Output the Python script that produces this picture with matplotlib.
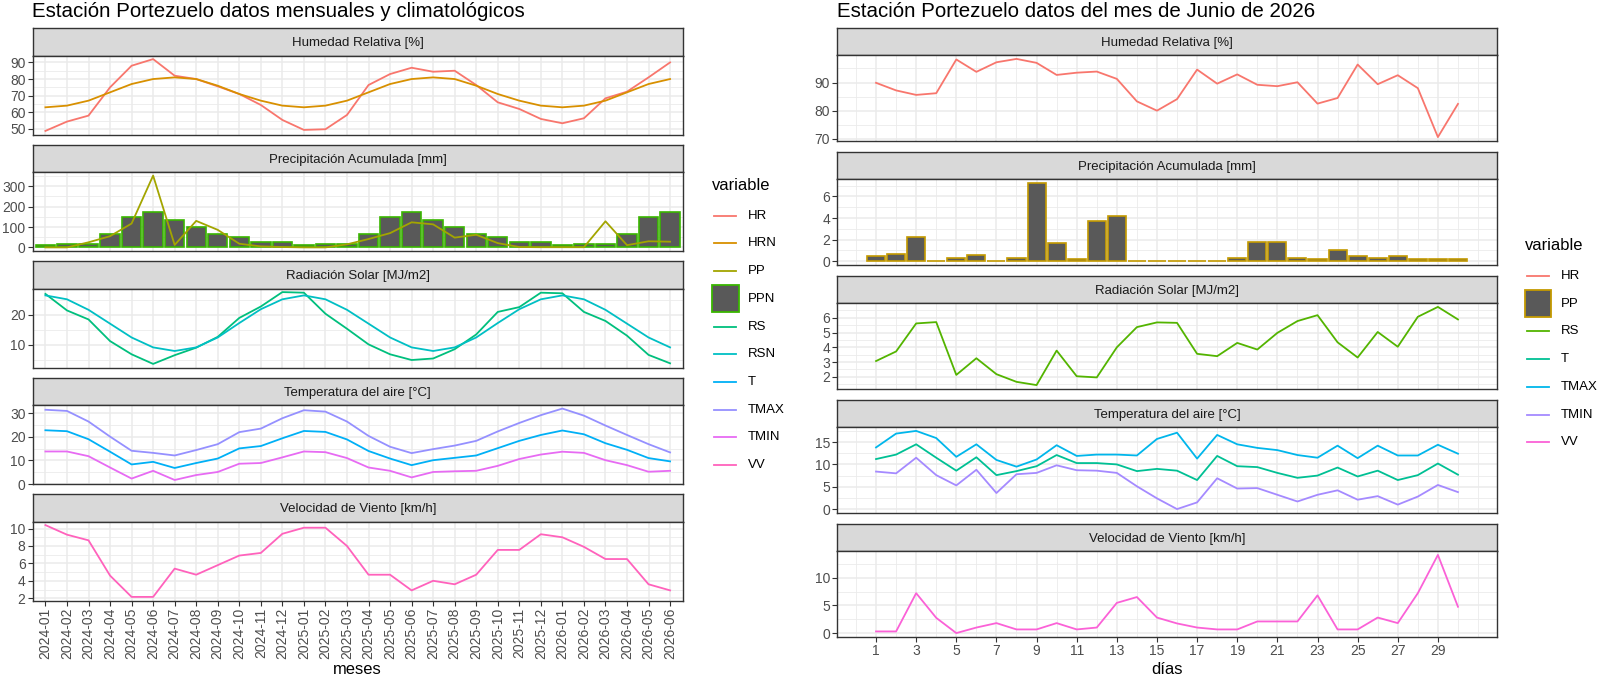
import numpy as np
import matplotlib.pyplot as plt

plt.rcParams['font.family'] = ['Liberation Sans', 'DejaVu Sans']

W, H = 1600, 676

# ---------------- monthly data (2024-01 .. 2026-06) ----------------
meses = ['2024-01', '2024-02', '2024-03', '2024-04', '2024-05', '2024-06',
         '2024-07', '2024-08', '2024-09', '2024-10', '2024-11', '2024-12',
         '2025-01', '2025-02', '2025-03', '2025-04', '2025-05', '2025-06',
         '2025-07', '2025-08', '2025-09', '2025-10', '2025-11', '2025-12',
         '2026-01', '2026-02', '2026-03', '2026-04', '2026-05', '2026-06']

hr_m = [48.8, 54.4, 58, 75, 88, 92, 82, 80, 75.6, 71, 64.4, 55.4,
        49.4, 49.8, 58.4, 76.4, 83, 86.8, 84.4, 85, 76.4, 66, 62, 56,
        53.4, 56.4, 68.4, 72.4, 81, 90]
hrn_m = [63, 64, 67, 72, 77, 80, 81, 80, 76, 71, 67, 64,
         63, 64, 67, 72, 77, 80, 81, 80, 76, 71, 67, 64,
         63, 64, 67, 72, 77, 80]
pp_m = [0, 0, 25, 55, 117, 352, 12, 130, 86, 18, 5, 2,
        0, 0, 15, 41, 70, 123, 113, 48, 62, 21, 2, 1,
        1, 1, 128, 11, 30, 28]
ppn_m = [10, 18, 18, 67, 148, 172, 133, 99, 67, 51, 26, 26,
         10, 18, 18, 67, 148, 172, 133, 99, 67, 51, 26, 26,
         10, 18, 18, 67, 148, 172]
rs_m = [26.9, 21.4, 18.4, 11.2, 6.8, 3.6, 6.5, 9.0, 12.6, 18.9, 22.7, 27.5,
        27.3, 20.3, 15.3, 10.1, 6.8, 4.9, 5.4, 8.5, 13.4, 20.9, 22.5, 27.3,
        27.1, 20.9, 17.9, 13.0, 6.6, 3.8]
rsn_m = [26.4, 25.1, 21.6, 17.0, 12.4, 9.1, 7.9, 9.1, 12.4, 17.2, 21.8, 25.1,
         26.4, 25.1, 21.6, 17.0, 12.4, 9.1, 7.9, 9.1, 12.4, 17.2, 21.8, 25.1,
         26.4, 25.1, 21.6, 17.0, 12.4, 9.1]
tmax_m = [31.5, 31, 26.5, 20.1, 14.1, 13.2, 12.1, 14.4, 16.9, 22, 23.5, 27.9,
          31.3, 30.7, 26.5, 20.4, 15.8, 13.1, 14.8, 16.3, 18.3, 22.3, 25.9, 29.2,
          32, 29, 24.8, 20.8, 16.9, 13.4]
t_m = [22.8, 22.4, 19, 13.7, 8.3, 9.4, 6.8, 8.9, 10.8, 15.1, 16.1, 19.4,
       22.5, 22.1, 18.9, 14, 10.8, 8, 10.1, 11.1, 12.1, 15.2, 18.3, 20.8,
       22.7, 21.1, 17.3, 14.5, 11, 9.6]
tmin_m = [13.8, 13.8, 11.8, 7, 2.3, 5.6, 1.7, 3.8, 5.1, 8.6, 8.9, 11.3,
          13.8, 13.5, 11, 7, 5.6, 2.8, 5.1, 5.4, 5.6, 7.7, 10.6, 12.5,
          13.7, 13.2, 10.1, 8, 5.2, 5.6]
vv_m = [10.4, 9.3, 8.65, 4.6, 2.15, 2.15, 5.4, 4.7, 5.8, 6.9, 7.2, 9.4,
        10.1, 10.1, 8, 4.7, 4.7, 2.9, 4, 3.6, 4.7, 7.55, 7.55, 9.35,
        9.0, 7.9, 6.5, 6.5, 3.6, 2.9]

# ---------------- daily data (June 2026) ----------------
dias = list(range(1, 31))
hr_d = [89.9, 87.2, 85.6, 86.2, 98.2, 93.8, 97.2, 98.4, 97, 92.7, 93.5, 93.9,
        91.3, 83.3, 80, 84.1, 94.6, 89.6, 92.9, 89.2, 88.7, 90.1, 82.5, 84.5,
        96.4, 89.4, 92.6, 88, 70.6, 82.4]
pp_d = [0.46, 0.68, 2.28, 0, 0.25, 0.58, 0, 0.3, 7.26, 1.69, 0.15, 3.69,
        4.15, 0, 0, 0, 0, 0, 0.25, 1.78, 1.78, 0.25, 0.15, 1.0,
        0.46, 0.25, 0.46, 0.15, 0.15, 0.15]
rs_d = [3.07, 3.72, 5.62, 5.71, 2.13, 3.26, 2.18, 1.66, 1.44, 3.78, 2.04, 1.96,
        4.0, 5.37, 5.69, 5.66, 3.56, 3.4, 4.3, 3.85, 4.98, 5.78, 6.18, 4.34,
        3.31, 5.04, 4.04, 6.07, 6.74, 5.89]
tmax_d = [13.8, 16.9, 17.5, 15.9, 11.7, 14.5, 11.0, 9.5, 11.1, 14.3, 11.9, 12.2,
          12.2, 12.0, 15.7, 17.1, 11.3, 16.6, 14.5, 13.7, 13.2, 12.1, 11.5, 14.2,
          11.4, 14.2, 12.0, 12.0, 14.4, 12.4]
t_d = [11.2, 12.2, 14.5, 11.5, 8.6, 11.6, 7.6, 8.5, 9.6, 12.1, 10.3, 10.3,
       10.0, 8.5, 9.0, 8.6, 6.5, 11.9, 9.6, 9.4, 8.1, 7.0, 7.5, 9.3,
       7.3, 8.6, 6.5, 7.6, 10.2, 7.7]
tmin_d = [8.4, 8.0, 11.5, 7.6, 5.3, 8.8, 3.6, 7.8, 8.1, 9.8, 8.7, 8.6,
          8.1, 5.1, 2.4, 0, 1.5, 6.9, 4.6, 4.7, 3.2, 1.7, 3.2, 4.2,
          2.1, 2.9, 1.0, 2.8, 5.4, 3.8]
vv_d = [0.3, 0.3, 7.2, 2.75, 0, 1.0, 1.8, 0.66, 0.66, 1.8, 0.66, 1.0,
        5.45, 6.5, 2.8, 1.74, 1.0, 0.66, 0.66, 2.1, 2.1, 2.1, 6.8, 0.66,
        0.66, 2.8, 1.8, 7.2, 14.1, 4.75]

facetas = ['Humedad Relativa [%]', 'Precipitación Acumulada [mm]',
           'Radiación Solar [MJ/m2]', 'Temperatura del aire [°C]',
           'Velocidad de Viento [km/h]']

col_m = {'HR': '#F8766D', 'HRN': '#D89000', 'PP': '#A3A500', 'PPN': '#39B600',
         'RS': '#00BF7D', 'RSN': '#00BFC4', 'T': '#00B0F6', 'TMAX': '#9590FF',
         'TMIN': '#E76BF3', 'VV': '#FF62BC'}
col_d = {'HR': '#F8766D', 'PP': '#C49A00', 'RS': '#53B400', 'T': '#00C094',
         'TMAX': '#00B6EB', 'TMIN': '#A58AFF', 'VV': '#FB61D7'}

BAR_FILL = '#595959'
LW = 1.3
TICK_FS = 10
TEXT_FS = 9.5
TITLE_FS = 14.8

fig = plt.figure(figsize=(W / 100, H / 100), dpi=100)


def px_axes(left, top, width, height):
    return fig.add_axes([left / W, 1 - (top + height) / H, width / W, height / H])


def expand(vals, f=0.05):
    lo, hi = min(vals), max(vals)
    d = (hi - lo) * f
    return lo - d, hi + d


def minor_breaks(b, lim):
    step = b[1] - b[0]
    ext = [b[0] - step] + list(b) + [b[-1] + step]
    out = [(ext[i] + ext[i + 1]) / 2 for i in range(len(ext) - 1)]
    out += [ext[0], ext[-1]]
    return [v for v in out if lim[0] <= v <= lim[1] and v not in b]


def strip(left, top, width, height, text):
    s = px_axes(left, top, width, height)
    s.set_facecolor('#D9D9D9')
    s.set_xticks([])
    s.set_yticks([])
    for sp in s.spines.values():
        sp.set_color('#333333')
        sp.set_linewidth(1.0)
    s.text(0.5, 0.45, text, ha='center', va='center', fontsize=TEXT_FS,
           color='#1A1A1A', transform=s.transAxes)


def style(ax, xlim, ylim, yticks, xmajor, xminor, bottom):
    ax.set_xlim(xlim)
    ax.set_ylim(ylim)
    ax.set_yticks(yticks)
    ax.set_yticks(minor_breaks(yticks, ylim), minor=True)
    ax.set_xticks(xmajor)
    ax.set_xticks(xminor, minor=True)
    ax.grid(which='major', color='#EBEBEB', lw=1.1)
    ax.grid(which='minor', color='#EBEBEB', lw=0.6)
    ax.set_axisbelow(True)
    ax.tick_params(which='minor', length=0)
    ax.tick_params(which='major', length=3.5, width=0.8, color='#333333',
                   labelsize=TICK_FS, labelcolor='#4D4D4D', pad=1.5)
    if not bottom:
        ax.tick_params(axis='x', which='major', length=0, labelbottom=False)
    for sp in ax.spines.values():
        sp.set_color('#333333')
        sp.set_linewidth(1.0)


# ---------------- left chart ----------------
L_LEFT, L_W = 32.5, 650.5
L_TOPS = [28, 144.5, 261, 377.5, 494]
L_SH, L_PH = 27.5, 79
xm = np.arange(len(meses))
xlim_m = (-0.6, len(meses) - 1 + 0.6)

left_series = [
    [('HR', hr_m), ('HRN', hrn_m)],
    [('PP', pp_m)],
    [('RS', rs_m), ('RSN', rsn_m)],
    [('T', t_m), ('TMAX', tmax_m), ('TMIN', tmin_m)],
    [('VV', vv_m)],
]
left_yticks = [[50, 60, 70, 80, 90], [0, 100, 200, 300], [10, 20],
               [0, 10, 20, 30], [2, 4, 6, 8, 10]]

for i, top in enumerate(L_TOPS):
    strip(L_LEFT, top, L_W, L_SH, facetas[i])
    ax = px_axes(L_LEFT, top + L_SH, L_W, L_PH)
    allv = []
    if i == 1:
        ax.bar(xm, ppn_m, width=0.9, color=BAR_FILL, edgecolor=col_m['PPN'],
               linewidth=1.2, zorder=2)
        allv += ppn_m + [0]
    for name, vals in left_series[i]:
        ax.plot(xm, vals, color=col_m[name], lw=LW, zorder=3)
        allv += vals
    style(ax, xlim_m, expand(allv), left_yticks[i], xm, [], i == 4)
    if i == 4:
        ax.set_xticklabels(meses, rotation=90)

fig.text((L_LEFT + L_W / 2) / W, 1 - 670 / H, 'meses', ha='center', va='center',
         fontsize=11.9)
fig.text(L_LEFT / W, 1 - 2 / H, 'Estación Portezuelo datos mensuales y climatológicos',
         ha='left', va='top', fontsize=TITLE_FS)

# ---------------- right chart ----------------
R_LEFT, R_W = 837, 660
R_TOPS = [28, 152, 276, 400, 524]
R_SH, R_PH = 27, 86
xd = np.array(dias)
xlim_d = expand([xd[0] - 0.45, xd[-1] + 0.45])
xmaj_d = list(range(1, 30, 2))

right_series = [
    [('HR', hr_d)],
    [],
    [('RS', rs_d)],
    [('T', t_d), ('TMAX', tmax_d), ('TMIN', tmin_d)],
    [('VV', vv_d)],
]
right_yticks = [[70, 80, 90], [0, 2, 4, 6], [2, 3, 4, 5, 6], [0, 5, 10, 15],
                [0, 5, 10]]

for i, top in enumerate(R_TOPS):
    strip(R_LEFT, top, R_W, R_SH, facetas[i])
    ax = px_axes(R_LEFT, top + R_SH, R_W, R_PH)
    allv = []
    if i == 1:
        ax.bar(xd, pp_d, width=0.9, color=BAR_FILL, edgecolor=col_d['PP'],
               linewidth=1.2, zorder=2)
        allv += pp_d + [0]
    for name, vals in right_series[i]:
        ax.plot(xd, vals, color=col_d[name], lw=LW, zorder=3)
        allv += vals
    style(ax, xlim_d, expand(allv), right_yticks[i], xmaj_d,
          minor_breaks(xmaj_d, xlim_d), i == 4)

fig.text((R_LEFT + R_W / 2) / W, 1 - 670 / H, 'días', ha='center', va='center',
         fontsize=11.9)
fig.text(R_LEFT / W, 1 - 2 / H, 'Estación Portezuelo datos del mes de Junio de 2026',
         ha='left', va='top', fontsize=TITLE_FS)

# ---------------- legends ----------------
lg = fig.add_axes([0, 0, 1, 1], zorder=-1)
lg.set_xlim(0, W)
lg.set_ylim(H, 0)
lg.axis('off')


def legend(x0, y_title, y0, names, colors, bar_name):
    lg.text(x0, y_title, 'variable', ha='left', va='center', fontsize=11.9)
    for k, name in enumerate(names):
        y = y0 + 27.7 * k
        if name == bar_name:
            lg.add_patch(plt.Rectangle((x0, y - 13.3), 26.6, 26.6, facecolor=BAR_FILL,
                                       edgecolor=colors[name], lw=1.3))
        else:
            lg.plot([x0 + 2, x0 + 24], [y, y], color=colors[name], lw=LW)
        lg.text(x0 + 36, y, name, ha='left', va='center', fontsize=TEXT_FS)


legend(712, 185, 215.7, list(col_m), col_m, 'PPN')
legend(1524.5, 245, 276, list(col_d), col_d, 'PP')

fig.savefig('out.png', dpi=100)
